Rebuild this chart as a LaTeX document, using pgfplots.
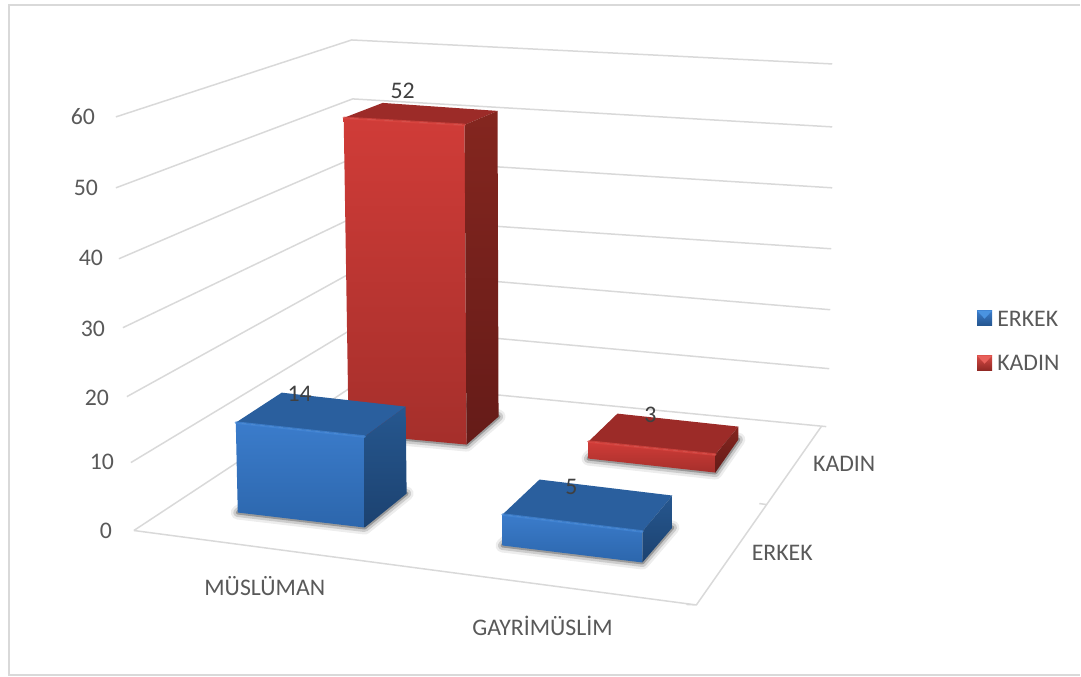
\documentclass[border=0pt]{standalone}
\usepackage{pgfplots}
\pgfplotsset{compat=1.18}
\usepackage{fontspec}
\setmainfont{Carlito}
\definecolor{gridc}{HTML}{D9D9D9}
\definecolor{txt}{HTML}{595959}
\definecolor{lab}{HTML}{404040}
\definecolor{rF1}{HTML}{D03C38}\definecolor{rF2}{HTML}{A52F2B}\definecolor{rT}{HTML}{9C2B28}
\definecolor{rS1}{HTML}{84261F}\definecolor{rS2}{HTML}{651B18}\definecolor{rH}{HTML}{DC4843}
\definecolor{bF1}{HTML}{3B7CCB}\definecolor{bF2}{HTML}{2C66AC}\definecolor{bT}{HTML}{2A5F9E}
\definecolor{bS1}{HTML}{26578F}\definecolor{bS2}{HTML}{1C4270}\definecolor{bH}{HTML}{4488D8}
\definecolor{lB1}{HTML}{3B7CCB}\definecolor{lB2}{HTML}{24558E}\definecolor{lB3}{HTML}{4A93E0}
\definecolor{lR1}{HTML}{D64A45}\definecolor{lR2}{HTML}{8E2723}\definecolor{lR3}{HTML}{E8605A}
\newcommand\grid[1]{\addplot[gridc,line width=1.5pt,line join=round] coordinates {#1};}
\newcommand\shad[1]{%
 \addplot[draw=black,draw opacity=.07,line width=14pt,line join=round] coordinates {#1} --cycle;
 \addplot[draw=black,draw opacity=.14,line width=9pt,line join=round] coordinates {#1} --cycle;
 \addplot[draw=black,draw opacity=.25,line width=4pt,line join=round] coordinates {#1} --cycle;}
% front top edge, front bottom edge, top face, right face, colour family
\newcommand\barbox[5]{%
 \addplot[draw=none,top color=#5F1,bottom color=#5F2] coordinates {#1 #2} --cycle;
 \addplot[draw=none,fill=#5T] coordinates {#3} --cycle;
 \addplot[draw=none,top color=#5S1,bottom color=#5S2] coordinates {#4} --cycle;
 \addplot[draw=#5H,draw opacity=.7,line width=2.5pt,line cap=round] coordinates {#1};
}
\tikzset{lbl/.style={font=\fontsize{23.8}{25}\selectfont,text=txt,inner sep=0pt,anchor=center},
         dlb/.style={lbl,text=lab}}
\begin{document}
\begin{tikzpicture}
\begin{axis}[
  scale only axis,width=1081pt,height=677pt,
  xmin=0,xmax=1081,ymin=0,ymax=677,y dir=reverse,
  hide axis,clip=false]
\path (axis cs:0,0) (axis cs:1081,677);
% frame (open at the right edge)
\addplot[gridc,line width=2pt] coordinates {(1081,5)(9,5)(9,676)(1081,676)};
% walls (60 ... 0)
\grid{(116,117)(352,40)(833,64)}
\grid{(116,188)(353,99)(833,127)}
\grid{(119,259)(354,158)(833,188)}
\grid{(123,328)(355,217)(832,249)}
\grid{(127,397)(357,270)(831,310)}
\grid{(131,463)(358,326)(830,369)}
% floor
\grid{(134,531)(360,382)(827,427)}
\grid{(134,531)(697,605.5)(687,605)}
\grid{(697,605.5)(822,427)}
\grid{(767,505)(760,504)}
% shadows
\shad{(349,434)(467,445)(499,417)(470,405)}
\shad{(589,459)(716,473)(739,440)(618,431)}
\shad{(238,513)(365,528)(407,494)(282,484)}
\shad{(503,546)(643,563)(673,528)(540,512)}
% KADIN MUSLUMAN (52)
\barbox{(344,118)(465,125)}{(467,445)(349,434)}{(344,118)(383,103)(498,111)(465,125)}{(465,125)(498,111)(499,417)(467,445)}{r}
% KADIN GAYRIMUSLIM (3)
\barbox{(589,442)(716,455)}{(716,473)(589,459)}{(589,442)(618,414)(739,427)(716,455)}{(716,455)(739,427)(739,440)(716,473)}{r}
% ERKEK MUSLUMAN (14)
\barbox{(236,423)(365,437)}{(365,528)(238,513)}{(236,423)(282,393)(406,407)(365,437)}{(365,437)(406,407)(407,494)(365,528)}{b}
% ERKEK GAYRIMUSLIM (5)
\barbox{(503,515)(643,532)}{(643,563)(503,546)}{(503,515)(540,480)(673,496)(643,532)}{(643,532)(673,496)(673,528)(643,563)}{b}
% legend swatches
\addplot[draw=none,top color=lB1,bottom color=lB2] coordinates {(978,311)(993,311)(993,326)(978,326)} --cycle;
\addplot[draw=none,fill=lB3] coordinates {(978,311)(993,311)(985.5,319)} --cycle;
\addplot[draw=none,top color=lR1,bottom color=lR2] coordinates {(978,356)(993,356)(993,371)(978,371)} --cycle;
\addplot[draw=none,fill=lR3] coordinates {(978,356)(993,356)(985.5,364)} --cycle;
% texts
\node[lbl] at (axis cs:83,117) {60};
\node[lbl] at (axis cs:86,188) {50};
\node[lbl] at (axis cs:91,258) {40};
\node[lbl] at (axis cs:93,329) {30};
\node[lbl] at (axis cs:97,398) {20};
\node[lbl] at (axis cs:102,462) {10};
\node[lbl] at (axis cs:106,531) {0};
\node[lbl] at (axis cs:265,587) {MÜSLÜMAN};
\node[lbl] at (axis cs:543,626) {GAYRİMÜSLİM};
\node[lbl] at (axis cs:783,553) {ERKEK};
\node[lbl] at (axis cs:845,464) {KADIN};
\node[lbl,anchor=west] at (axis cs:998,319) {ERKEK};
\node[lbl,anchor=west] at (axis cs:998,363) {KADIN};
\node[dlb] at (axis cs:403,91) {52};
\node[dlb] at (axis cs:300,394) {14};
\node[dlb] at (axis cs:572,487) {5};
\node[dlb] at (axis cs:651,415) {3};
\end{axis}
\end{tikzpicture}
\end{document}
